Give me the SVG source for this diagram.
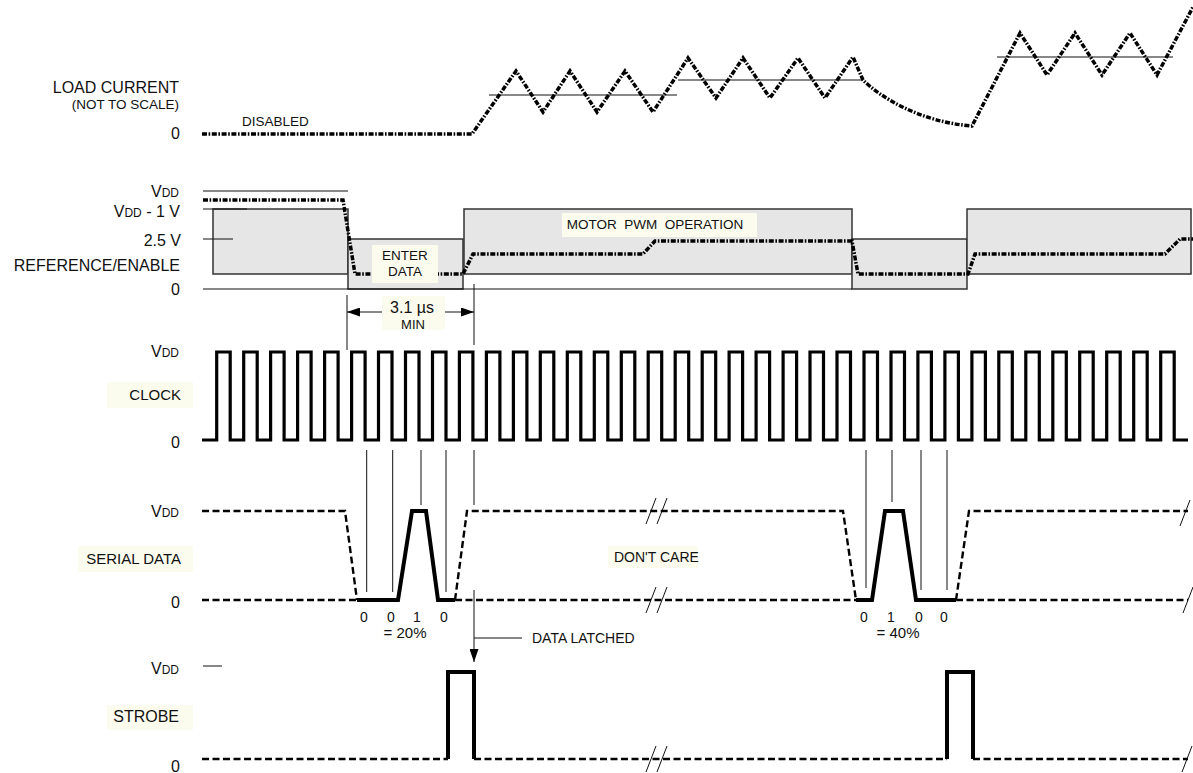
<svg xmlns="http://www.w3.org/2000/svg" width="1193" height="773" viewBox="0 0 1193 773">
<style>
text{font-family:"Liberation Sans",Arial,sans-serif;fill:#111}
.lbl{font-size:16px}
.lb2{font-size:15px}
.mid{font-size:14px}
.sm{font-size:13.5px}
.r{text-anchor:end}
.m{text-anchor:middle}
.bg{fill:#fcfcee}
.box{fill:#e6e6e6;stroke:#333;stroke-width:1.5}
.thin{fill:none;stroke:#111;stroke-width:1}
.dd{fill:none;stroke:#000;stroke-width:3.5;stroke-dasharray:5 1.6 1.6 1.6}
.dash{fill:none;stroke:#000;stroke-width:2.4;stroke-dasharray:7 3.5}
.solid{fill:none;stroke:#000;stroke-width:4;stroke-linejoin:miter}
.clk{fill:none;stroke:#000;stroke-width:3.2}
</style>
<defs>
<marker id="arr" markerUnits="userSpaceOnUse" markerWidth="13" markerHeight="9" viewBox="0 0 13 9" refX="13" refY="4.5" orient="auto-start-reverse"><path d="M0 0L13 4.5L0 9z" fill="#000"/></marker>
</defs>

<g id="load-current">
<text class="lbl r" x="179" y="93">LOAD CURRENT</text>
<text class="sm r" x="179" y="109">(NOT TO SCALE)</text>
<text class="sm" x="242" y="126">DISABLED</text>
<text class="lbl r" x="180" y="139">0</text>
<line class="thin" x1="489" y1="95" x2="677" y2="95"/>
<line class="thin" x1="678" y1="80" x2="862" y2="80"/>
<line class="thin" x1="997" y1="57" x2="1173" y2="57"/>
<path class="dd" d="M202 134H472L516 71L543 112L570 71L597 112L625 71L653 112L688 58L716 98L743 58L770 98L798 58L825 98L853 57L863 80C880 97 920 122 972 126L1020 33L1047 75L1075 33L1102 75L1130 33L1157 75L1193 7"/>
</g>

<g id="reference-enable">
<rect class="box" x="213" y="209" width="135" height="65"/>
<rect class="box" x="348" y="239" width="115" height="50"/>
<rect class="box" x="464" y="209" width="388" height="65"/>
<rect class="box" x="852" y="239" width="115" height="50"/>
<rect class="box" x="967" y="209" width="224" height="65"/>
<line class="thin" x1="203" y1="191" x2="348" y2="191"/>
<line class="thin" x1="203" y1="209" x2="247" y2="209"/>
<line class="thin" x1="203" y1="239" x2="233" y2="239"/>
<line class="thin" x1="203" y1="289" x2="852" y2="289"/>
<text class="lbl r" x="179" y="197">V<tspan font-size="12">DD</tspan></text>
<text class="lbl r" x="180" y="217">V<tspan font-size="12">DD</tspan> - 1 V</text>
<text class="lbl r" x="181" y="246">2.5 V</text>
<text class="lbl r" x="180" y="271">REFERENCE/ENABLE</text>
<text class="lbl r" x="180" y="295">0</text>
<path class="dd" d="M203 200H343L355 274H463L473 254H643L655 241H852L858 274H968L975 254H1165L1180 239H1193"/>
<rect class="bg" x="372" y="245" width="66" height="38"/>
<text class="sm m" x="405" y="260">ENTER</text>
<text class="sm m" x="405" y="276">DATA</text>
<rect class="bg" x="562" y="213" width="195" height="24"/>
<text class="sm m" x="655" y="229">MOTOR&#160; PWM&#160; OPERATION</text>
</g>

<g id="min-time">
<line class="thin" x1="347" y1="295" x2="347" y2="350"/>
<line class="thin" x1="474" y1="284" x2="474" y2="345"/>
<line class="thin" x1="347" y1="312" x2="474" y2="312" marker-start="url(#arr)" marker-end="url(#arr)"/>
<rect class="bg" x="382" y="296" width="63" height="34"/>
<text class="lbl m" x="412" y="313">3.1 µs</text>
<text class="m" x="413" y="329" style="font-size:13px">MIN</text>
</g>

<g id="clock">
<text class="lbl r" x="179" y="357">V<tspan font-size="12">DD</tspan></text>
<rect class="bg" x="107" y="382" width="86" height="26"/>
<text class="lb2 r" x="181" y="400">CLOCK</text>
<text class="lbl r" x="180" y="448">0</text>
<path class="clk" d="M202 440H216.7V352H230.2V440H243.7V352H257.2V440H270.6V352H284.1V440H297.6V352H311.1V440H324.6V352H338.1V440H351.6V352H365.1V440H378.5V352H392V440H405.5V352H419V440H432.5V352H446V440H459.4V352H472.9V440H486.4V352H499.9V440H513.4V352H526.9V440H540.3V352H553.8V440H567.3V352H580.8V440H594.3V352H607.8V440H621.3V352H634.8V440H648.2V352H661.7V440H675.2V352H688.7V440H702.2V352H715.7V440H729.1V352H742.6V440H756.1V352H769.6V440H783.1V352H796.6V440H810V352H823.5V440H837V352H850.5V440H864V352H877.5V440H891V352H904.5V440H917.9V352H931.4V440H944.9V352H958.4V440H971.9V352H985.4V440H998.8V352H1012.3V440H1025.8V352H1039.3V440H1052.8V352H1066.3V440H1079.7V352H1093.2V440H1106.7V352H1120.2V440H1133.7V352H1147.2V440H1160.7V352H1174.2V440H1188"/>
</g>

<g id="connectors">
<line class="thin" x1="366.7" y1="450" x2="366.7" y2="592"/>
<line class="thin" x1="392.7" y1="450" x2="392.7" y2="592"/>
<line class="thin" x1="421" y1="450" x2="421" y2="505"/>
<line class="thin" x1="446" y1="450" x2="446" y2="592"/>
<line class="thin" x1="474" y1="450" x2="474" y2="505"/>
<line class="thin" x1="866" y1="450" x2="866" y2="588"/>
<line class="thin" x1="892" y1="450" x2="892" y2="502"/>
<line class="thin" x1="921" y1="450" x2="921" y2="590"/>
<line class="thin" x1="947" y1="450" x2="947" y2="590"/>
<line class="thin" x1="474" y1="590" x2="474" y2="662" marker-end="url(#arr)"/>
<line class="thin" x1="474" y1="638" x2="522" y2="638"/>
</g>

<g id="serial-data">
<text class="lbl r" x="179" y="517">V<tspan font-size="12">DD</tspan></text>
<rect class="bg" x="78" y="546" width="115" height="26"/>
<text class="lb2 r" x="181" y="564">SERIAL DATA</text>
<text class="lbl r" x="180" y="608">0</text>
<path class="dash" d="M202 511H345L357 600M202 600H357M455 600L467 511H843L856 600M455 600H856M956 600L969 511H1188M956 600H1188"/>
<path class="solid" d="M357 600H398L412 511H426L438 600H455M856 600H872L885 511H903L916 600H956"/>
<path class="thin" stroke-width="1.3" d="M646 524L656 498M657 524L667 498M646 613L656 587M657 613L667 587M1180 526L1190 500M1183 613L1193 587"/>
<rect class="bg" x="608" y="546" width="90" height="22"/>
<text class="mid" x="614" y="562">DON'T CARE</text>
<text class="mid m" x="364" y="622">0</text>
<text class="mid m" x="391" y="622">0</text>
<text class="mid m" x="417" y="622">1</text>
<text class="mid m" x="444" y="622">0</text>
<text class="m" x="405" y="638" style="font-size:15px">= 20%</text>
<text class="mid m" x="864" y="622">0</text>
<text class="mid m" x="891" y="622">1</text>
<text class="mid m" x="919" y="622">0</text>
<text class="mid m" x="944" y="622">0</text>
<text class="m" x="898" y="638" style="font-size:15px">= 40%</text>
<text class="mid" x="532" y="643">DATA LATCHED</text>
</g>

<g id="strobe">
<line class="thin" x1="203" y1="666" x2="222" y2="666"/>
<text class="lbl r" x="179" y="674">V<tspan font-size="12">DD</tspan></text>
<rect class="bg" x="107" y="705" width="86" height="25"/>
<text class="lbl r" x="179" y="722">STROBE</text>
<text class="lbl r" x="180" y="772">0</text>
<path class="dash" d="M202 759H448M474 759H947M973 759H1188"/>
<path class="solid" d="M448 759V672H474V759M947 759V672H973V759"/>
<path class="thin" stroke-width="1.3" d="M646 772L656 746M657 772L667 746M1182 772L1192 746"/>
</g>
</svg>
